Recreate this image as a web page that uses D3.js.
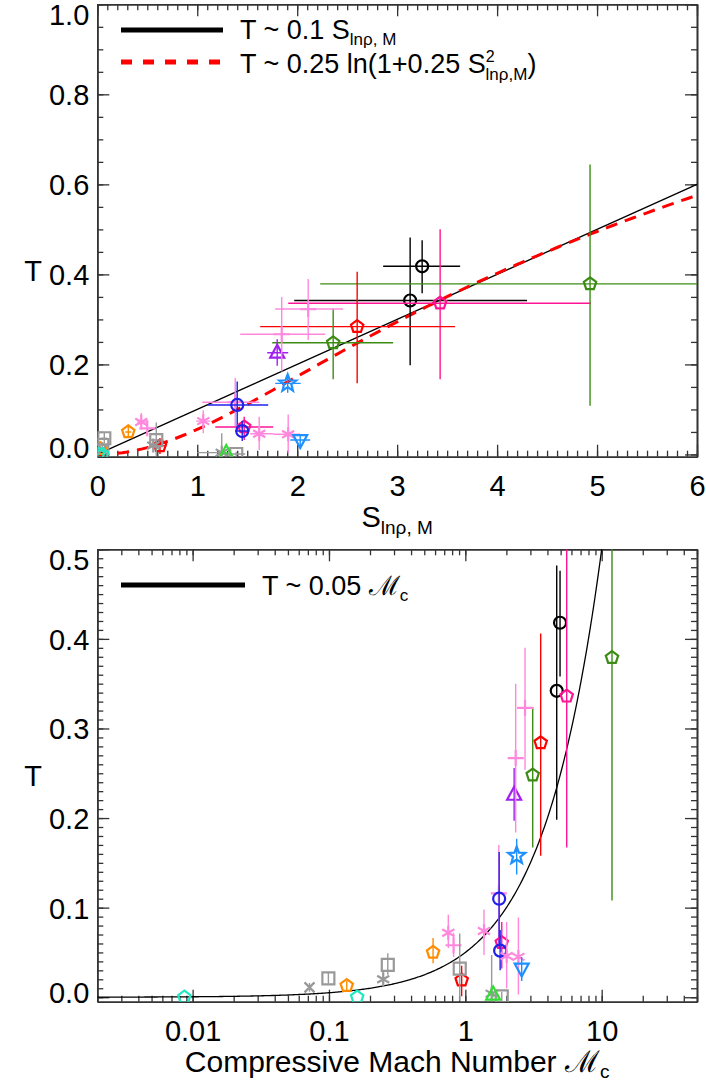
<!DOCTYPE html>
<html lang="en">
<head>
<meta charset="UTF-8" />
<title>T versus S and compressive Mach number</title>
<script src="https://d3js.org/d3.v7.min.js"></script>
<style>
  body { margin: 0; background: #fff; }
  text { font-family: "Liberation Sans", Arial, Helvetica, sans-serif; fill: #000; }
</style>
</head>
<body>
<svg id="chart" width="706" height="1081"></svg>
<script>
// one entry per measurement, same order in every array
const markers = ["circle", "circle", "pentagon", "pentagon", "pentagon", "pentagon", "triangle", "star",
  "plus", "plus", "plus", "circle", "pentagon", "circle", "asterisk", "asterisk", "asterisk", "asterisk",
  "plus", "triangleDown", "pentagon", "pentagon", "pentagon", "square", "square", "square", "square",
  "x", "asterisk", "asterisk", "pentagon", "pentagon", "triangle"];
const colors = ["#000000", "#000000", "#ff1493", "#3c8c14", "#ff0000", "#3c8c14", "#a020f0", "#1e90ff",
  "#ff88dd", "#ff88dd", "#ff88dd", "#2020e8", "#ff1493", "#2020e8", "#ff88dd", "#ff88dd", "#ff88dd", "#ff88dd",
  "#ff88dd", "#1e90ff", "#ff8c00", "#ff8c00", "#ff0000", "#999999", "#999999", "#999999", "#999999",
  "#999999", "#999999", "#999999", "#20e8c0", "#20e8c0", "#33dd33"];
const sVal = [3.25, 3.13, 3.43, 4.93, 2.60, 2.36, 1.80, 1.905, 2.11, 1.845, 1.38, 1.40, 1.47, 1.45,
  0.44, 1.06, 1.62, 1.91, 0.50, 2.03, 0.31, 0.03, 0.627, 0.07, 0.59, 0.05, 1.39, 0.05, 0.56, 1.245, 0.05, 0.01, 1.29];
const sLo = [2.86, 1.97, 1.91, 2.23, 1.63, 1.75, 1.70, 1.78, 1.78, 1.43, 1.05, 1.10, 1.18, 1.38,
  0.40, 0.99, 1.53, 1.76, 0.45, 1.93, 0.28, 0.01, 0.57, 0.03, 0.53, 0.02, 1.25, 0.02, 0.52, 1.00, 0.04, 0.0, 1.27];
const sHi = [3.63, 4.30, 4.94, 6.50, 3.58, 2.96, 1.91, 2.035, 2.46, 2.28, 1.62, 1.71, 1.76, 1.52,
  0.50, 1.13, 1.76, 2.03, 0.58, 2.13, 0.34, 0.05, 0.69, 0.10, 0.66, 0.08, 1.48, 0.08, 0.60, 1.30, 0.06, 0.02, 1.31];
const tVal = [0.418, 0.342, 0.336, 0.379, 0.284, 0.248, 0.226, 0.158, 0.323, 0.267, 0.116, 0.110, 0.061, 0.052,
  0.072, 0.074, 0.046, 0.045, 0.058, 0.032, 0.050, 0.013, 0.019, 0.036, 0.032, 0.021, 0.001, 0.011, 0.020, 0.004, 0.0, 0.0, 0.003];
const tLo = [0.358, 0.198, 0.167, 0.108, 0.158, 0.167, 0.197, 0.137, 0.254, 0.184, 0.060, 0.055, 0.032, 0.030,
  0.055, 0.047, 0.010, 0.003, 0.045, 0.018, 0.038, 0.008, 0.001, 0.025, -0.004, 0.015, -0.005, 0.006, 0.012, -0.005, 0.0, 0.0, 0.0];
const tHi = [0.476, 0.482, 0.500, 0.644, 0.406, 0.324, 0.256, 0.177, 0.390, 0.350, 0.170, 0.162, 0.084, 0.075,
  0.092, 0.098, 0.084, 0.089, 0.072, 0.045, 0.066, 0.018, 0.035, 0.049, 0.071, 0.027, 0.006, 0.016, 0.030, 0.047, 0.0, 0.0, 0.006];
const mcVal = [4.95, 4.68, 5.54, 11.9, 3.57, 3.12, 2.28, 2.38, 2.74, 2.34, 1.76, 1.77, 1.85, 1.80,
  0.75, 1.37, 2.01, 2.45, 0.82, 2.59, 0.58, 0.135, 0.94, 0.27, 0.91, 0.099, 1.85, 0.072, 0.25, 1.56, 0.0087, 0.161, 1.60];

const xTicksTop = [0, 1, 2, 3, 4, 5, 6];
const yTicksTop = [0, 0.2, 0.4, 0.6, 0.8, 1.0];
const xTicksBot = [0.01, 0.1, 1, 10];
const yTicksBot = [0, 0.1, 0.2, 0.3, 0.4, 0.5];

const svg = d3.select("#chart");
const L = 97.3, R = 697;
const top1 = 4.3, bot1 = 456.7, top2 = 549.3, bot2 = 1001.7;
const FS = 29;

const xS = d3.scaleLinear().domain([0, 6]).range([L, R]);
const yT1 = d3.scaleLinear().domain([-0.005, 1.0]).range([bot1, top1]);
const xM = d3.scaleLog().domain([0.002, 50]).range([L, R]);
const yT2 = d3.scaleLinear().domain([-0.005, 0.5]).range([bot2, top2]);

const defs = svg.append("defs");
defs.append("clipPath").attr("id", "clip1").append("rect")
  .attr("x", L).attr("y", top1).attr("width", R - L).attr("height", bot1 - top1);
defs.append("clipPath").attr("id", "clip2").append("rect")
  .attr("x", L).attr("y", top2).attr("width", R - L).attr("height", bot2 - top2);

function markerPath(type, cx, cy) {
  const p = d3.path();
  if (type === "circle") {
    p.moveTo(cx + 6, cy);
    p.arc(cx, cy, 6, 0, 2 * Math.PI);
  } else if (type === "pentagon" || type === "star") {
    const n = type === "star" ? 10 : 5;
    for (let k = 0; k < n; k++) {
      const a = -Math.PI / 2 + k * 2 * Math.PI / n;
      const r = type === "star" ? (k % 2 ? 3.8 : 9) : 6.5;
      k ? p.lineTo(cx + r * Math.cos(a), cy + r * Math.sin(a)) : p.moveTo(cx + r * Math.cos(a), cy + r * Math.sin(a));
    }
    p.closePath();
  } else if (type === "triangle" || type === "triangleDown") {
    const s = type === "triangle" ? 1 : -1;
    p.moveTo(cx, cy - s * 8);
    p.lineTo(cx + 7, cy + s * 5);
    p.lineTo(cx - 7, cy + s * 5);
    p.closePath();
  } else if (type === "square") {
    p.rect(cx - 6, cy - 6, 12, 12);
  } else if (type === "plus") {
    p.moveTo(cx - 8, cy); p.lineTo(cx + 8, cy);
    p.moveTo(cx, cy - 8); p.lineTo(cx, cy + 8);
  } else if (type === "x") {
    p.moveTo(cx - 5, cy - 5); p.lineTo(cx + 5, cy + 5);
    p.moveTo(cx - 5, cy + 5); p.lineTo(cx + 5, cy - 5);
  } else if (type === "asterisk") {
    [90, 30, 150].forEach(deg => {
      const a = deg * Math.PI / 180;
      p.moveTo(cx - 7 * Math.cos(a), cy - 7 * Math.sin(a));
      p.lineTo(cx + 7 * Math.cos(a), cy + 7 * Math.sin(a));
    });
  }
  return p.toString();
}

function styleAxis(g) {
  g.select(".domain").attr("stroke", "#333").attr("stroke-width", 1.6);
  g.selectAll(".tick line").attr("stroke", "#333").attr("stroke-width", 1.3);
  g.attr("font-size", FS).attr("font-family", null);
  g.selectAll("text").attr("fill", "#000");
}

function drawBox(x, y, top, bot, xTicks, xMinor, yTicks, yMinor, xFmt, yFmt) {
  const g = svg.append("g");
  const ax = [
    [d3.axisBottom(x).tickValues(xTicks).tickSize(-12).tickPadding(19).tickFormat(xFmt), `translate(0,${bot})`],
    [d3.axisBottom(x).tickValues(xMinor).tickSize(-6).tickFormat(""), `translate(0,${bot})`],
    [d3.axisTop(x).tickValues(xTicks).tickSize(-12).tickFormat(""), `translate(0,${top})`],
    [d3.axisTop(x).tickValues(xMinor).tickSize(-6).tickFormat(""), `translate(0,${top})`],
    [d3.axisLeft(y).tickValues(yTicks).tickSize(-12).tickPadding(8).tickFormat(yFmt), `translate(${L},0)`],
    [d3.axisLeft(y).tickValues(yMinor).tickSize(-6).tickFormat(""), `translate(${L},0)`],
    [d3.axisRight(y).tickValues(yTicks).tickSize(-12).tickFormat(""), `translate(${R},0)`],
    [d3.axisRight(y).tickValues(yMinor).tickSize(-6).tickFormat(""), `translate(${R},0)`]
  ];
  ax.forEach(([a, tr], i) => {
    const ga = g.append("g").attr("transform", tr).call(a.tickSizeOuter(0));
    styleAxis(ga);
    if (i === 4) {
      // keep the end labels inside the frame like the original
      ga.selectAll(".tick text").each(function (d) {
        const py = y(d);
        const base = Math.max(top + 20, Math.min(bot + 0.5, py + 10.4));
        d3.select(this).attr("dy", null).attr("y", base - py);
      });
    }
  });
}

const idx = d3.range(markers.length);

// ---------- top panel ----------
drawBox(xS, yT1, top1, bot1, xTicksTop, d3.range(0, 6.001, 0.1), yTicksTop, d3.range(0, 1.0001, 0.05),
  d3.format("d"), d3.format(".1f"));

const p1 = svg.append("g").attr("clip-path", "url(#clip1)");
const sGrid = d3.range(0, 6.001, 0.05);
p1.append("path")
  .attr("d", d3.line().x(s => xS(s)).y(s => yT1(0.1 * s))(sGrid))
  .attr("fill", "none").attr("stroke", "#000").attr("stroke-width", 1.3);
p1.append("path")
  .attr("d", d3.line().x(s => xS(s)).y(s => yT1(0.25 * Math.log(1 + 0.25 * s * s)))(sGrid))
  .attr("fill", "none").attr("stroke", "#ff0000").attr("stroke-width", 3).attr("stroke-dasharray", "12,8");

idx.forEach(i => {
  const g = p1.append("g").attr("stroke", colors[i]).attr("fill", "none");
  g.append("line").attr("x1", xS(sLo[i])).attr("x2", xS(sHi[i]))
    .attr("y1", yT1(tVal[i])).attr("y2", yT1(tVal[i])).attr("stroke-width", 1.4);
  g.append("line").attr("x1", xS(sVal[i])).attr("x2", xS(sVal[i]))
    .attr("y1", yT1(tLo[i])).attr("y2", yT1(tHi[i])).attr("stroke-width", 1.4);
  g.append("path").attr("d", markerPath(markers[i], xS(sVal[i]), yT1(tVal[i]))).attr("stroke-width", 2.2);
});

// legend
svg.append("line").attr("x1", 121).attr("x2", 223).attr("y1", 30).attr("y2", 30)
  .attr("stroke", "#000").attr("stroke-width", 5);
svg.append("line").attr("x1", 121).attr("x2", 223).attr("y1", 62).attr("y2", 62)
  .attr("stroke", "#ff0000").attr("stroke-width", 5).attr("stroke-dasharray", "11,11");
const lg1 = svg.append("text").attr("x", 240).attr("y", 39).attr("font-size", 27);
lg1.append("tspan").text("T ~ 0.1 S");
lg1.append("tspan").attr("font-size", 17).attr("dy", 6).text("lnρ, M");
const lg2 = svg.append("text").attr("x", 240).attr("y", 73).attr("font-size", 27);
lg2.append("tspan").text("T ~ 0.25 ln(1+0.25 S");
lg2.append("tspan").attr("font-size", 16).attr("dy", -11).text("2");
lg2.append("tspan").attr("font-size", 17).attr("dx", -9).attr("dy", 18).text("lnρ,M");
lg2.append("tspan").attr("dy", -7).text(")");

// axis titles
const xt1 = svg.append("text").attr("x", (L + R) / 2).attr("y", 527).attr("text-anchor", "middle").attr("font-size", FS);
xt1.append("tspan").text("S");
xt1.append("tspan").attr("font-size", 19).attr("dy", 7).text("lnρ, M");
svg.append("text").attr("x", 33).attr("y", 281).attr("text-anchor", "middle").attr("font-size", FS).text("T");

// ---------- bottom panel ----------
const logMinor = [];
[-3, -2, -1, 0, 1].forEach(e => d3.range(1, 10).forEach(k => {
  const v = k * Math.pow(10, e);
  if (v >= 0.002 && v <= 50) logMinor.push(v);
}));
drawBox(xM, yT2, top2, bot2, xTicksBot, logMinor, yTicksBot, d3.range(0, 0.5001, 0.01),
  d3.format("~g"), d3.format(".1f"));

const p2 = svg.append("g").attr("clip-path", "url(#clip2)");
const mGrid = d3.range(-2.7, 1.71, 0.01).map(e => Math.pow(10, e));
p2.append("path")
  .attr("d", d3.line().x(m => xM(m)).y(m => yT2(0.05 * m))(mGrid))
  .attr("fill", "none").attr("stroke", "#000").attr("stroke-width", 1.3);

idx.forEach(i => {
  const g = p2.append("g").attr("stroke", colors[i]).attr("fill", "none");
  g.append("line").attr("x1", xM(mcVal[i])).attr("x2", xM(mcVal[i]))
    .attr("y1", yT2(tLo[i])).attr("y2", yT2(tHi[i])).attr("stroke-width", 1.4);
  g.append("path").attr("d", markerPath(markers[i], xM(mcVal[i]), yT2(tVal[i]))).attr("stroke-width", 2.2);
});

svg.append("line").attr("x1", 121).attr("x2", 245).attr("y1", 585).attr("y2", 585)
  .attr("stroke", "#000").attr("stroke-width", 5);
const lg3 = svg.append("text").attr("x", 262).attr("y", 595).attr("font-size", 27);
lg3.append("tspan").text("T ~ 0.05 ℳ");
lg3.append("tspan").attr("font-size", 17).attr("dy", 6).text("c");

const xt2 = svg.append("text").attr("x", (L + R) / 2).attr("y", 1072).attr("text-anchor", "middle").attr("font-size", 30);
xt2.append("tspan").text("Compressive Mach Number ℳ");
xt2.append("tspan").attr("font-size", 19).attr("dy", 6).text("c");
svg.append("text").attr("x", 33).attr("y", 786).attr("text-anchor", "middle").attr("font-size", FS).text("T");
</script>
</body>
</html>
